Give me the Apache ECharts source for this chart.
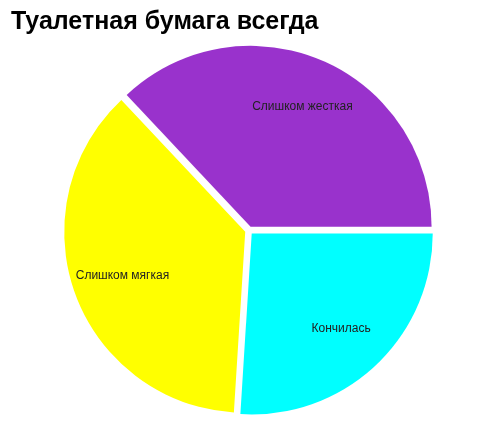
<!DOCTYPE html>
<html>
<head>
<meta charset="utf-8">
<script src="https://cdn.jsdelivr.net/npm/echarts@6/dist/echarts.min.js"></script>
<style>
html,body{margin:0;padding:0;background:#fff;}
#chart{width:500px;height:442px;}
</style>
</head>
<body>
<div id="chart"></div>
<script>
const titleText = 'Туалетная бумага всегда';
const categories = ['Слишком жесткая', 'Кончилась', 'Слишком мягкая'];
const values = [37, 26, 37];
const colors = ['#9932CC', '#00FFFF', '#FFFF00'];

const chart = echarts.init(document.getElementById('chart'), null, {renderer: 'canvas'});

const pieData = categories.map((c, i) => ({
  name: c, value: values[i], selected: true,
  itemStyle: {color: colors[i]}
}));
const labelData = categories.map((c, i) => ({
  name: c, value: values[i], selected: true
}));

chart.setOption({
  animation: false,
  backgroundColor: '#fff',
  title: {
    text: titleText,
    left: 6, top: 5,
    textStyle: {fontFamily: 'Liberation Sans', fontSize: 25, fontWeight: 'bold', color: '#000'}
  },
  series: [
    {
      type: 'pie',
      center: [249, 230.5],
      radius: [0, 181],
      startAngle: 133.2,
      clockwise: true,
      selectedMode: 'multiple',
      selectedOffset: 4,
      silent: true,
      label: {show: false},
      labelLine: {show: false},
      emphasis: {disabled: true},
      data: pieData
    },
    {
      type: 'pie',
      center: [249, 230.5],
      radius: [74, 181],
      startAngle: 133.2,
      clockwise: true,
      selectedMode: 'multiple',
      selectedOffset: 4,
      silent: true,
      itemStyle: {color: 'rgba(0,0,0,0)'},
      label: {show: true, position: 'inside', fontFamily: 'Liberation Sans', fontSize: 12, color: '#222'},
      labelLine: {show: false},
      emphasis: {disabled: true},
      data: labelData
    }
  ]
});
</script>
</body>
</html>
